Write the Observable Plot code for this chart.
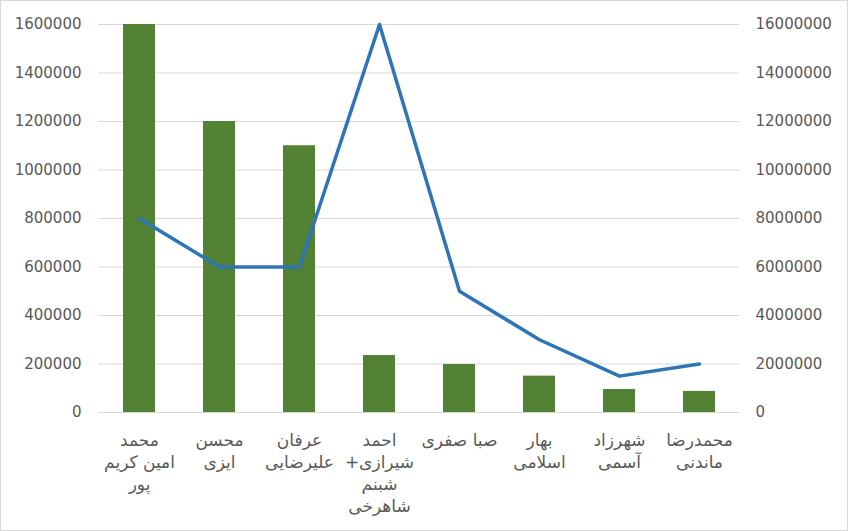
<!DOCTYPE html>
<html><head><meta charset="utf-8">
<script src="https://cdn.jsdelivr.net/npm/d3@7"></script>
<script src="https://cdn.jsdelivr.net/npm/@observablehq/plot@0.6"></script>
<style>
body{margin:0;background:#fff}
#chart svg{outline:1px solid #d9d9d9;outline-offset:-1px;display:block}
g[aria-label="x-axis tick label"] text{direction:rtl}
</style></head><body><div id="chart"></div>
<script>
const categories = ["محمد امین کریم پور","محسن ایزی","عرفان علیرضایی","احمد شیرازی+ شبنم شاهرخی","صبا صفری","بهار اسلامی","شهرزاد آسمی","محمدرضا ماندنی"];
const categoryLines = ["محمد\nامین کریم\nپور","محسن\nایزی","عرفان\nعلیرضایی","احمد\nشیرازی+\nشبنم\nشاهرخی","صبا صفری","بهار\nاسلامی","شهرزاد\nآسمی","محمدرضا\nماندنی"];
const barValues = [1600000,1200000,1100000,235000,198000,150000,95000,87000];
const lineValues = [8000000,6000000,6000000,16000000,5000000,3000000,1500000,2000000];
const leftTicks = [0,200000,400000,600000,800000,1000000,1200000,1400000,1600000];
const rightTicks = [0,2000000,4000000,6000000,8000000,10000000,12000000,14000000,16000000];
const ratio = rightTicks[rightTicks.length-1] / leftTicks[leftTicks.length-1];
const data = categories.map((c,i)=>({category:c, bar:barValues[i], line:lineValues[i]}));

const chart = Plot.plot({
  width:848, height:531,
  marginLeft:98, marginRight:109, marginTop:24, marginBottom:119,
  style:{fontFamily:"DejaVu Sans", fontSize:"15px", color:"#595959", background:"#fff"},
  x:{domain:categories, paddingInner:0.6, paddingOuter:0.3},
  y:{domain:[0,leftTicks[leftTicks.length-1]]},
  marks:[
    Plot.gridY(leftTicks,{stroke:"#d9d9d9", strokeOpacity:1}),
    Plot.barY(data,{x:"category", y:"bar", fill:"#548235"}),
    Plot.line(data,{x:"category", y:d=>d.line/ratio, stroke:"#2E75B6", strokeWidth:3.5, strokeLinejoin:"round", strokeLinecap:"round"}),
    Plot.axisY(leftTicks,{anchor:"left", tickSize:0, tickPadding:17, label:null, tickFormat:d=>String(d)}),
    Plot.axisY(leftTicks,{anchor:"right", tickSize:0, tickPadding:16, label:null, tickFormat:d=>String(rightTicks[leftTicks.indexOf(d)])}),
    Plot.axisX({tickSize:0, tickPadding:18, fontSize:17, lineHeight:22/17, label:null, tickFormat:c=>categoryLines[categories.indexOf(c)]})
  ]
});
document.getElementById("chart").appendChild(chart);
</script></body></html>
